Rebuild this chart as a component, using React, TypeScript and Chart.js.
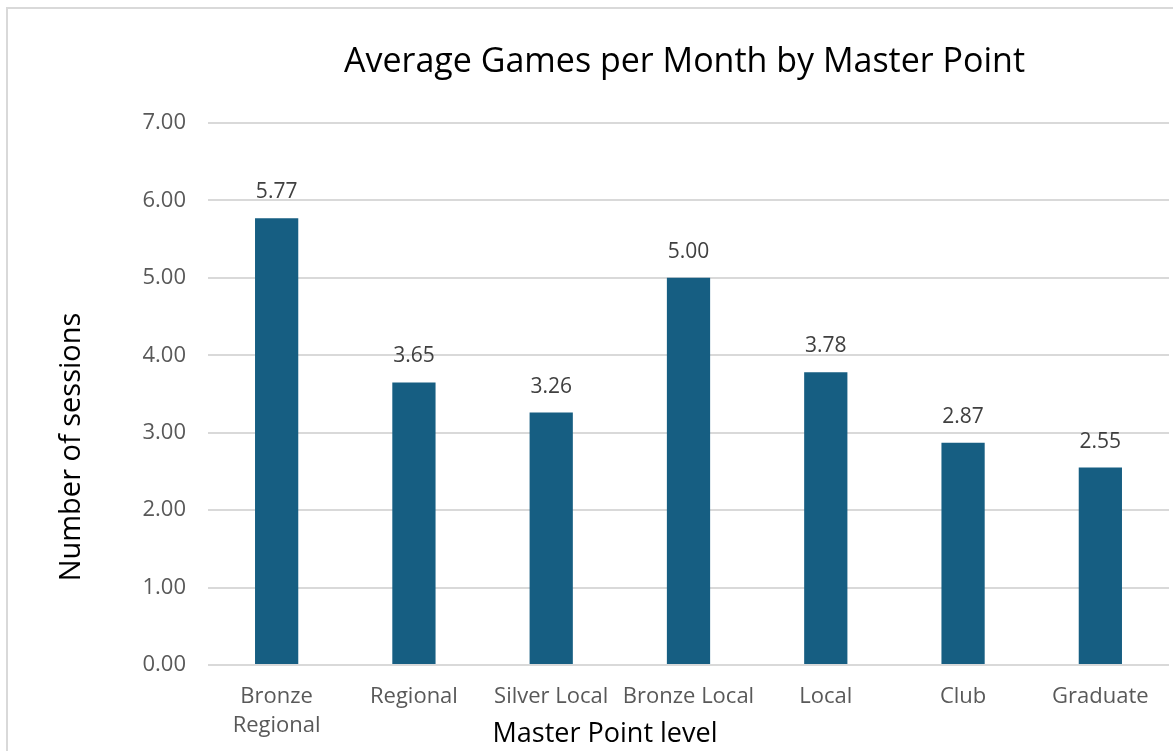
import React, { useEffect, useRef } from "react";
import { Chart, registerables } from "chart.js";

Chart.register(...registerables);

const categories: (string | string[])[] = [
  ["Bronze", "Regional"],
  "Regional",
  "Silver Local",
  "Bronze Local",
  "Local",
  "Club",
  "Graduate",
];
const values: number[] = [5.77, 3.65, 3.26, 5.0, 3.78, 2.87, 2.55];
const chartTitle = "Average Games per Month by Master Point";
const yTitle = "Number of sessions";
const xTitle = "Master Point level";

const FONT = "'Open Sans', 'Liberation Sans', sans-serif";

const textPlugin = {
  id: "customTexts",
  afterDatasetsDraw(chart: any) {
    const ctx = chart.ctx;
    const area = chart.chartArea;
    ctx.save();
    // data labels
    const meta = chart.getDatasetMeta(0);
    ctx.font = `21px ${FONT}`;
    ctx.fillStyle = "#404040";
    ctx.textAlign = "center";
    ctx.textBaseline = "middle";
    meta.data.forEach((bar: any, i: number) => {
      ctx.fillText(values[i].toFixed(2), bar.x, bar.y - 26);
    });
    // title
    ctx.fillStyle = "#000000";
    ctx.font = `34px ${FONT}`;
    ctx.fillText(chartTitle, (area.left + area.right) / 2 - 4, 62);
    // x title
    ctx.font = `27px ${FONT}`;
    ctx.fillText(xTitle, 605, 734);
    // y title
    ctx.font = `29px ${FONT}`;
    ctx.translate(72, 447);
    ctx.rotate(-Math.PI / 2);
    ctx.fillText(yTitle, 0, 0);
    ctx.restore();
  },
};

export default function App() {
  const ref = useRef<HTMLCanvasElement>(null);
  useEffect(() => {
    document.body.style.overflow = "hidden";
    const chart = new Chart(ref.current!, {
      type: "bar",
      data: {
        labels: categories,
        datasets: [
          {
            data: values,
            backgroundColor: "#165E82",
            categoryPercentage: 1,
            barPercentage: 0.315,
          },
        ],
      },
      options: {
        animation: false,
        responsive: false,
        layout: { padding: { top: 123, right: 4, left: 0, bottom: 0 } },
        plugins: { legend: { display: false }, tooltip: { enabled: false }, title: { display: false } },
        scales: {
          x: {
            grid: { display: false },
            border: { display: false },
            ticks: {
              color: "#595959",
              font: { family: FONT, size: 22, lineHeight: 1.32 },
              padding: 9,
              maxRotation: 0,
              autoSkip: false,
            },
            afterFit: (s: any) => {
              s.height = 86;
            },
          },
          y: {
            min: 0,
            max: 7,
            grid: { color: "#d9d9d9", lineWidth: 2, drawTicks: false },
            border: { display: false },
            ticks: {
              stepSize: 1,
              color: "#595959",
              font: { family: FONT, size: 22 },
              padding: 22,
              callback: (v: any) => Number(v).toFixed(2),
            },
            afterFit: (s: any) => {
              s.width = 208;
            },
          },
        },
      },
      plugins: [textPlugin],
    });
    return () => chart.destroy();
  }, []);
  return (
    <div style={{ position: "fixed", left: 0, top: 0, width: 1173, height: 751, overflow: "hidden", background: "#fff" }}>
      <div
        style={{
          position: "absolute",
          left: 6,
          top: 7,
          width: 2000,
          height: 2000,
          border: "2px solid #d9d9d9",
        }}
      />
      <canvas ref={ref} width={1173} height={751} style={{ position: "absolute", left: 0, top: 0 }} />
    </div>
  );
}
